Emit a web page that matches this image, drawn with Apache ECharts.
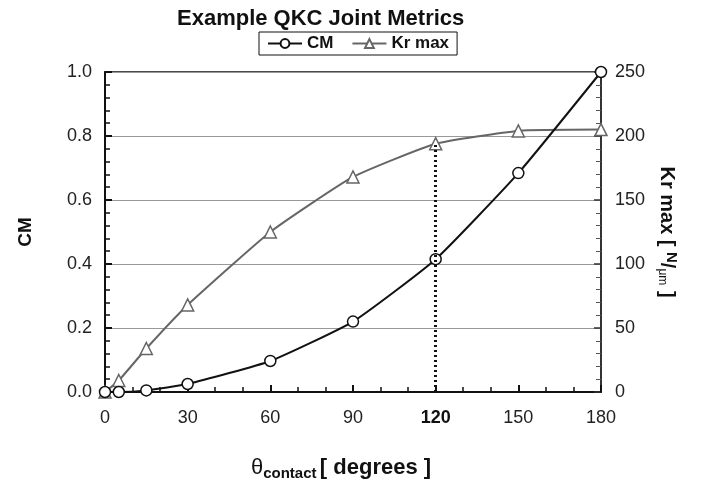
<!DOCTYPE html>
<html lang="en" style="height: 100%">
<head>
  <meta charset="UTF-8">
</head>
<body style="height: 100%; margin: 0; background: #fff">
  <div id="container" style="width: 714px; height: 485px"></div>
  <script type="text/javascript" src="https://fastly.jsdelivr.net/npm/echarts@6/dist/echarts.min.js"></script>
  <script type="text/javascript">
    // contact angle (degrees)
    var angles = [0, 5, 15, 30, 60, 90, 120, 150, 180];
    var cmValues = [0, 0, 0.005, 0.025, 0.097, 0.22, 0.415, 0.684, 1.0];
    var krValues = [0, 9, 34, 68, 125, 168, 194, 204, 205];
    var markAngle = 120;
    var markKr = 194;

    var font = 'Arial, "Liberation Sans", sans-serif';
    var myChart = echarts.init(document.getElementById('container'), null, { renderer: 'canvas' });

    var option = {
      backgroundColor: '#fff',
      animation: false,
      title: {
        text: 'Example QKC Joint Metrics',
        left: 172,
        top: 3,
        textStyle: { fontFamily: font, fontSize: 22, fontWeight: 'bold', color: '#111' }
      },
      legend: {
        top: 32,
        left: 259,
        borderColor: '#111',
        borderWidth: 1,
        borderRadius: 0,
        padding: [3, 8],
        itemGap: 18,
        itemWidth: 34,
        itemHeight: 11,
        textStyle: { fontFamily: font, fontSize: 17, fontWeight: 'bold', color: '#111' },
        data: ['CM', 'Kr max']
      },
      grid: {
        left: 105, right: 113, top: 72, bottom: 93,
        containLabel: false,
        outerBoundsMode: 'none',
        show: true, borderColor: '#111', borderWidth: 1.5
      },
      xAxis: {
        type: 'value',
        min: 0, max: 180, interval: 30,
        name: '{t|θ}{s|contact} {d|[ degrees ]}',
        nameLocation: 'middle',
        nameGap: 62,
        nameTextStyle: {
          padding: [0, 24, 0, 0],
          rich: {
            t: { fontFamily: font, fontSize: 22, color: '#111' },
            s: { fontFamily: font, fontSize: 15, fontWeight: 'bold', color: '#111', padding: [12, 0, 0, 0] },
            d: { fontFamily: font, fontSize: 22, fontWeight: 'bold', color: '#111' }
          }
        },
        axisLine: { lineStyle: { color: '#111', width: 2 } },
        axisTick: { inside: true, length: 7, lineStyle: { color: '#111', width: 2 } },
        minorTick: { show: true, splitNumber: 3, length: 5, lineStyle: { color: '#111', width: 1.5 } },
        splitLine: { show: false },
        axisLabel: {
          fontFamily: font, fontSize: 18, color: '#222', margin: 17,
          formatter: function (v) { return v === markAngle ? '{b|' + v + '}' : v; },
          rich: { b: { fontFamily: font, fontSize: 18, fontWeight: 'bold', color: '#111' } }
        }
      },
      yAxis: [
        {
          type: 'value',
          min: 0, max: 1, interval: 0.2,
          name: 'CM',
          nameLocation: 'middle',
          nameGap: 70,
          nameTextStyle: { fontFamily: font, fontSize: 19, fontWeight: 'bold', color: '#111' },
          axisLine: { show: true, lineStyle: { color: '#111', width: 2 } },
          axisTick: { inside: true, length: 7, lineStyle: { color: '#111', width: 2 } },
          minorTick: { show: true, splitNumber: 5, length: 5, lineStyle: { color: '#111', width: 1.5 } },
          splitLine: { show: true, lineStyle: { color: '#999', width: 1 } },
          axisLabel: {
            fontFamily: font, fontSize: 18, color: '#222', margin: 13,
            formatter: function (v) { return v.toFixed(1); }
          }
        },
        {
          type: 'value',
          min: 0, max: 250, interval: 50,
          position: 'right',
          name: '{a|Kr max [ }{n|N}{b|/}{u|μm}{a| ]}',
          nameLocation: 'middle',
          nameGap: 52,
          nameRotate: -90,
          nameTextStyle: {
            rich: {
              a: { fontFamily: font, fontSize: 20, fontWeight: 'bold', color: '#111' },
              n: { fontFamily: font, fontSize: 15, fontWeight: 'bold', color: '#111', padding: [0, 0, 9, 0] },
              b: { fontFamily: font, fontSize: 20, fontWeight: 'bold', color: '#111' },
              u: { fontFamily: font, fontSize: 12, color: '#111', padding: [9, 0, 0, 0] }
            }
          },
          axisLine: { show: true, lineStyle: { color: '#333', width: 2 } },
          axisTick: { inside: true, length: 7, lineStyle: { color: '#333', width: 1.5 } },
          minorTick: { show: true, splitNumber: 5, length: 5, lineStyle: { color: '#555', width: 1 } },
          splitLine: { show: false },
          axisLabel: { fontFamily: font, fontSize: 18, color: '#222', margin: 14 }
        }
      ],
      series: [
        {
          name: 'CM',
          type: 'line',
          yAxisIndex: 0,
          data: angles.map(function (a, i) { return [a, cmValues[i]]; }),
          symbol: 'circle',
          symbolSize: 11,
          showAllSymbol: true,
          smooth: 0.15,
          lineStyle: { color: '#111', width: 2 },
          itemStyle: { color: '#fff', borderColor: '#111', borderWidth: 1.5 },
          z: 3
        },
        {
          name: 'Kr max',
          type: 'line',
          yAxisIndex: 1,
          data: angles.map(function (a, i) { return [a, krValues[i]]; }),
          symbol: 'triangle',
          symbolSize: 12,
          showAllSymbol: true,
          smooth: 0.15,
          lineStyle: { color: '#666', width: 2 },
          itemStyle: { color: '#fff', borderColor: '#666', borderWidth: 1.5 },
          z: 2,
          markLine: {
            silent: true,
            symbol: 'none',
            label: { show: false },
            lineStyle: { color: '#111', type: [2, 3], width: 3 },
            data: [[{ coord: [markAngle, 0] }, { coord: [markAngle, markKr] }]]
          }
        }
      ]
    };

    myChart.setOption(option);
    window.addEventListener('resize', myChart.resize);
  </script>
</body>
</html>
